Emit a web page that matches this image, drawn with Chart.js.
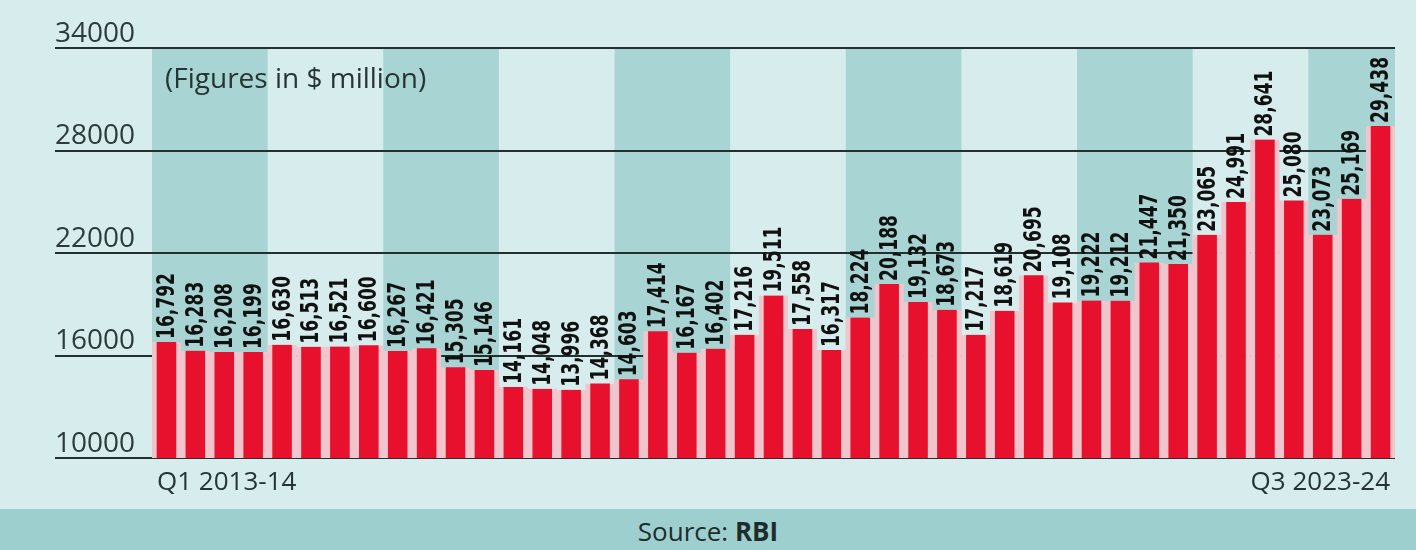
<!DOCTYPE html>
<html>
<head>
<meta charset="utf-8">
<title>Quarterly figures, Q1 2013-14 to Q3 2023-24</title>
<script src="https://cdn.jsdelivr.net/npm/chart.js@4.4.1/dist/chart.umd.min.js"></script>
<style>
  html, body { margin: 0; padding: 0; background: #d7eded; width: 1416px; height: 550px; overflow: hidden; }
  #wrap { width: 1416px; height: 509px; }
  #source { height: 41px; background: #9dcfcf; font: 26px "Open Sans", sans-serif; color: #1f2c2c; text-align: center; line-height: 44px; }
</style>
</head>
<body>
<div id="wrap"><canvas id="chart" width="1416" height="509"></canvas></div>
<div id="source">Source: <b>RBI</b></div>
<script>
const quarters = [
    'Q1 2013-14', 'Q2 2013-14', 'Q3 2013-14', 'Q4 2013-14',
    'Q1 2014-15', 'Q2 2014-15', 'Q3 2014-15', 'Q4 2014-15',
    'Q1 2015-16', 'Q2 2015-16', 'Q3 2015-16', 'Q4 2015-16',
    'Q1 2016-17', 'Q2 2016-17', 'Q3 2016-17', 'Q4 2016-17',
    'Q1 2017-18', 'Q2 2017-18', 'Q3 2017-18', 'Q4 2017-18',
    'Q1 2018-19', 'Q2 2018-19', 'Q3 2018-19', 'Q4 2018-19',
    'Q1 2019-20', 'Q2 2019-20', 'Q3 2019-20', 'Q4 2019-20',
    'Q1 2020-21', 'Q2 2020-21', 'Q3 2020-21', 'Q4 2020-21',
    'Q1 2021-22', 'Q2 2021-22', 'Q3 2021-22', 'Q4 2021-22',
    'Q1 2022-23', 'Q2 2022-23', 'Q3 2022-23', 'Q4 2022-23',
    'Q1 2023-24', 'Q2 2023-24', 'Q3 2023-24'
];

const values = [
    16792, 16283, 16208, 16199,
    16630, 16513, 16521, 16600,
    16267, 16421, 15305, 15146,
    14161, 14048, 13996, 14368,
    14603, 17414, 16167, 16402,
    17216, 19511, 17558, 16317,
    18224, 20188, 19132, 18673,
    17217, 18619, 20695, 19108,
    19222, 19212, 21447, 21350,
    23065, 24991, 28641, 25080,
    23073, 25169, 29438
];

const yTicks = [10000, 16000, 22000, 28000, 34000];
const note = '(Figures in $ million)';

const QUARTERS_PER_YEAR = 4;
const sideBorder = 5;

// alternating teal band behind every other fiscal year
const yearBands = {
    id: 'yearBands',
    beforeDraw(chart) {
        const { ctx, chartArea: a, scales: { x } } = chart;
        const half = (a.right - a.left) / quarters.length / 2;
        ctx.save();
        ctx.fillStyle = '#a8d4d4';
        for (let s = 0; s < quarters.length; s += QUARTERS_PER_YEAR) {
            if ((s / QUARTERS_PER_YEAR) % 2) continue;
            const e = Math.min(s + QUARTERS_PER_YEAR - 1, quarters.length - 1);
            const x0 = x.getPixelForValue(s) - half;
            const x1 = x.getPixelForValue(e) + half;
            ctx.fillRect(x0, a.top, x1 - x0, a.bottom - a.top);
        }
        ctx.restore();
    }
};

const barLabels = {
    id: 'barLabels',
    afterDatasetsDraw(chart) {
        const { ctx, chartArea: a } = chart;
        const bars = chart.getDatasetMeta(0).data;
        ctx.save();
        ctx.fillStyle = '#111';
        ctx.font = 'bold 25px "DejaVu Sans Condensed", sans-serif';
        ctx.textBaseline = 'middle';
        ctx.textAlign = 'left';
        bars.forEach((bar, i) => {
            ctx.save();
            ctx.translate(bar.x + 1, bar.y - 3);
            ctx.rotate(-Math.PI / 2);
            ctx.scale(0.76, 1); // squeeze along the text to get a narrow face
            ctx.fillText(values[i].toLocaleString('en-US'), 0, 0);
            ctx.restore();
        });

        // first and last quarter under the axis
        ctx.font = '26px "Open Sans", sans-serif';
        ctx.fillStyle = '#263434';
        const first = bars[0];
        const last = bars[bars.length - 1];
        ctx.fillText(quarters[0], first.x - first.width / 2 + sideBorder, a.bottom + 25);
        ctx.textAlign = 'right';
        ctx.fillText(quarters[quarters.length - 1], last.x + last.width / 2 - sideBorder, a.bottom + 25);

        ctx.textAlign = 'left';
        ctx.font = '28px "Open Sans", sans-serif';
        ctx.fillText(note, a.left + 13, a.top + 32);
        ctx.restore();
    }
};

new Chart(document.getElementById('chart'), {
    type: 'bar',
    data: {
        labels: quarters,
        datasets: [{
            data: values,
            backgroundColor: '#e8112d',
            borderColor: '#f2c4cb',
            borderWidth: { left: sideBorder, right: sideBorder, top: 0, bottom: 0 },
            barPercentage: 1,
            categoryPercentage: 1
        }]
    },
    options: {
        responsive: false,
        animation: false,
        layout: { padding: { left: 55, right: 21, top: 48, bottom: 51 } },
        plugins: {
            legend: { display: false },
            tooltip: { enabled: false }
        },
        scales: {
            x: { display: false, offset: true },
            y: {
                min: 10000,
                max: 34000,
                afterBuildTicks: s => { s.ticks = yTicks.map(v => ({ value: v })); },
                afterFit: s => { s.width = 97; },
                border: { display: false },
                grid: { color: '#243030', lineWidth: 2, tickLength: 97 },
                ticks: {
                    crossAlign: 'far',
                    labelOffset: -14,
                    padding: 0,
                    color: '#2e3b3b',
                    font: { family: 'Open Sans', size: 28 },
                    callback: v => String(v)
                }
            }
        }
    },
    plugins: [yearBands, barLabels]
});
</script>
</body>
</html>
